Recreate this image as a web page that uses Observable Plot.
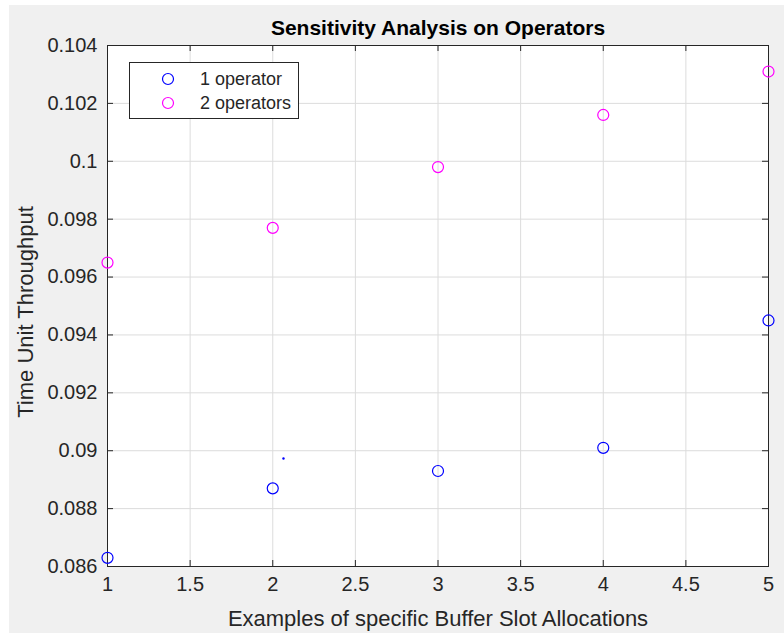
<!DOCTYPE html>
<html>
<head>
<meta charset="utf-8">
<script src="https://cdn.jsdelivr.net/npm/d3@7"></script>
<script src="https://cdn.jsdelivr.net/npm/@observablehq/plot@0.6"></script>
<style>
  html, body { margin: 0; padding: 0; background: #ffffff; width: 784px; height: 633px; overflow: hidden; }
  #bg { position: absolute; left: 9px; top: 5px; right: 0; bottom: 0; background: #f0f0f0; }
  #chart { position: absolute; left: 0; top: 0; }
  #chart svg { background: transparent; display: block; }
  #legend { position: absolute; left: 129px; top: 62px; width: 168px; height: 55px;
    background: #ffffff; border: 1px solid #262626; font-family: "Liberation Sans", Arial, sans-serif;
    font-size: 18px; color: #262626; }
  .row { position: absolute; left: 0; height: 22px; line-height: 22px; }
  .row svg { position: absolute; left: 30px; top: 3px; }
  .row span { position: absolute; left: 70px; white-space: nowrap; }
</style>
</head>
<body>
<div id="bg"></div>
<div id="chart"></div>
<div id="legend"></div>
<script>
// ---- data ----
const allocations = [1, 2, 3, 4, 5];
const oneOperator = [0.0863, 0.0887, 0.0893, 0.0901, 0.0945];
const twoOperators = [0.0965, 0.0977, 0.0998, 0.1016, 0.1031];
const strayDotX = [2.065];
const strayDotY = [0.08973];
const seriesNames = ["1 operator", "2 operators"];
const seriesColors = ["#0000ff", "#ff00ff"];
const xTicks = [1, 1.5, 2, 2.5, 3, 3.5, 4, 4.5, 5];
const yTicks = [0.086, 0.088, 0.09, 0.092, 0.094, 0.096, 0.098, 0.1, 0.102, 0.104];
const titleText = "Sensitivity Analysis on Operators";
const xLabel = "Examples of specific Buffer Slot Allocations";
const yLabel = "Time Unit Throughput";

const points = [
  ...allocations.map((x, i) => ({x, y: oneOperator[i], s: seriesNames[0]})),
  ...allocations.map((x, i) => ({x, y: twoOperators[i], s: seriesNames[1]}))
];
const stray = strayDotX.map((x, i) => ({x, y: strayDotY[i]}));

const W = 784, H = 633;
const mL = 107, mR = 16, mT = 45, mB = 67;
const pw = W - mL - mR, ph = H - mT - mB;
const axisColor = "#262626";
const font = "Liberation Sans, Arial, sans-serif";

const chart = Plot.plot({
  width: W, height: H,
  marginLeft: mL, marginRight: mR, marginTop: mT, marginBottom: mB,
  style: {fontFamily: font, fontSize: "18px", color: axisColor, background: "transparent"},
  x: {domain: [1, 5], ticks: xTicks},
  y: {domain: [0.086, 0.104], ticks: yTicks},
  color: {domain: seriesNames, range: seriesColors},
  marks: [
    Plot.frame({fill: "white", stroke: null}),
    Plot.gridX(xTicks, {stroke: "#dcdcdc", strokeOpacity: 1, strokeWidth: 1}),
    Plot.gridY(yTicks, {stroke: "#dcdcdc", strokeOpacity: 1, strokeWidth: 1}),
    // inward ticks (left/right/bottom/top)
    Plot.ruleY(yTicks, {stroke: axisColor, insetRight: pw - 6}),
    Plot.ruleY(yTicks, {stroke: axisColor, insetLeft: pw - 6}),
    Plot.ruleX(xTicks, {stroke: axisColor, insetTop: ph - 6}),
    Plot.ruleX(xTicks, {stroke: axisColor, insetBottom: ph - 6}),
    Plot.frame({stroke: axisColor, strokeWidth: 1}),
    Plot.axisX(xTicks, {tickSize: 0, tickPadding: 10, label: null, tickFormat: d => String(d), fontSize: 20, fill: axisColor}),
    Plot.axisY(yTicks, {tickSize: 0, tickPadding: 10, label: null, tickFormat: d => String(+d.toFixed(3)), fontSize: 20, fill: axisColor}),
    Plot.dot(points, {x: "x", y: "y", stroke: "s", r: 5.5, strokeWidth: 1.2}),
    Plot.dot(stray, {x: "x", y: "y", fill: seriesColors[0], r: 1.2, stroke: null}),
    Plot.text([titleText], {frameAnchor: "top", lineAnchor: "middle", dy: -17, text: d => d, fontWeight: "bold", fontSize: 21, fill: "#000"}),
    Plot.text([xLabel], {frameAnchor: "bottom", lineAnchor: "middle", dy: 52, text: d => d, fontSize: 22, fill: axisColor}),
    Plot.text([yLabel], {frameAnchor: "left", textAnchor: "middle", lineAnchor: "middle", dx: -82, dy: 6, rotate: -90, text: d => d, fontSize: 22, fill: axisColor})
  ]
});
document.getElementById("chart").appendChild(chart);

// legend
const legend = document.getElementById("legend");
seriesNames.forEach((name, i) => {
  const row = document.createElement("div");
  row.className = "row";
  row.style.top = (5 + i * 24) + "px";
  row.style.width = "100%";
  row.innerHTML = `<svg width="16" height="16"><circle cx="8" cy="8" r="5.5" fill="none" stroke="${seriesColors[i]}" stroke-width="1.2"/></svg><span>${name}</span>`;
  legend.appendChild(row);
});
</script>
</body>
</html>
